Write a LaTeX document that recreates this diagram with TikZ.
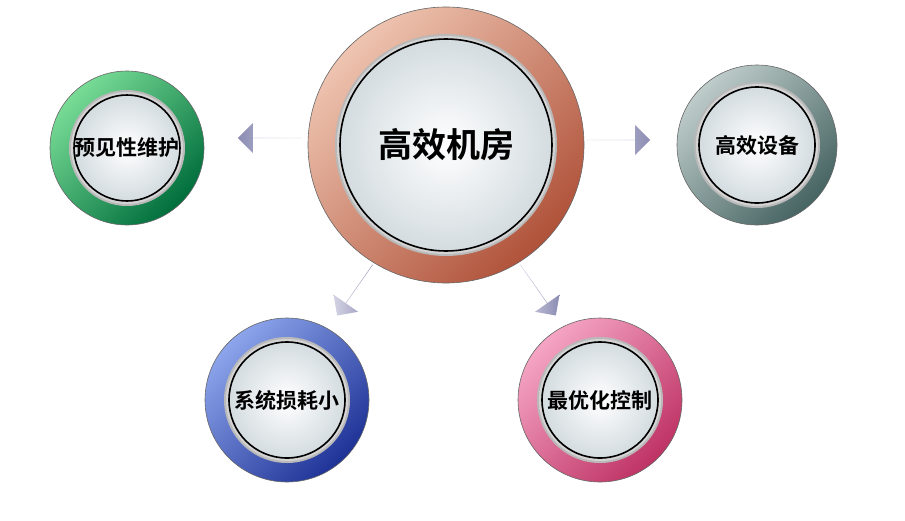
\documentclass[tikz,border=0pt]{standalone}
\usepackage{fontspec}
\newfontfamily\cjk{Noto Sans CJK SC Bold}
\usetikzlibrary{shapes.arrows}
\definecolor{arrA}{HTML}{8C8CB4}
\definecolor{arrB}{HTML}{D4D4E4}
\definecolor{discO}{HTML}{D4DCE0}
\definecolor{cL}{HTML}{EEC4B0}\definecolor{cD}{HTML}{B0523A}
\definecolor{gL}{HTML}{78DC96}\definecolor{gD}{HTML}{006E3C}
\definecolor{rL}{HTML}{BECCCA}\definecolor{rD}{HTML}{466462}
\definecolor{bL}{HTML}{8CA5EB}\definecolor{bD}{HTML}{1E3296}
\definecolor{pL}{HTML}{F5A5C3}\definecolor{pD}{HTML}{BE3264}
\newcommand\myball[8]{% name, x, y, R, r, colLight, colDark, text+size
  \node[circle,minimum size=2*#4 pt,inner sep=0pt,shading=axis,left color=#6,right color=#7,shading angle=45] (#1) at (#2,#3) {};
  \draw[black!60,line width=0.6pt] (#1.center) circle ({#4 pt});
  \fill[gray!55] (#1.center) circle ({#5 pt+5pt});
  \shade[inner color=white,outer color=gray!35] (#1.center) circle ({#5 pt+3pt});
  \draw[black,line width=1.6pt,shading=radial,inner color=white,outer color=discO] (#1.center) circle ({#5 pt});
  \node[font=\cjk] at (#1.center) {#8};
}
\begin{document}
\begin{tikzpicture}[x=1pt,y=-1pt,
  blk/.style={single arrow,shading=axis,minimum height=64pt,minimum width=30pt,single arrow head extend=13pt,inner sep=0pt,single arrow head indent=0pt}]
\useasboundingbox (0,0) rectangle (905,520);
\node[blk,left color=arrB,right color=arrA] (ar) at (618,140) {};
\node[blk,shape border rotate=180,left color=arrA,right color=arrB] (al) at (270,138) {};
\node[blk,rotate=-125,left color=arrB,right color=arrA,minimum height=62pt] (abl) at (355,290) {};
\node[blk,rotate=-55,left color=arrB,right color=arrA,minimum height=62pt] (abr) at (538,290) {};
\myball{c}{446}{145}{138}{106}{cL}{cD}{\fontsize{34}{38}\selectfont 高效机房}
\myball{g}{127}{148}{77}{53}{gL}{gD}{\fontsize{21}{24}\selectfont 预见性维护}
\myball{r}{757}{145}{80}{58}{rL}{rD}{\fontsize{21}{24}\selectfont 高效设备}
\myball{b}{287}{400}{82}{58}{bL}{bD}{\fontsize{21}{24}\selectfont 系统损耗小}
\myball{p}{600}{400}{82}{58}{pL}{pD}{\fontsize{21}{24}\selectfont 最优化控制}
\end{tikzpicture}
\end{document}
